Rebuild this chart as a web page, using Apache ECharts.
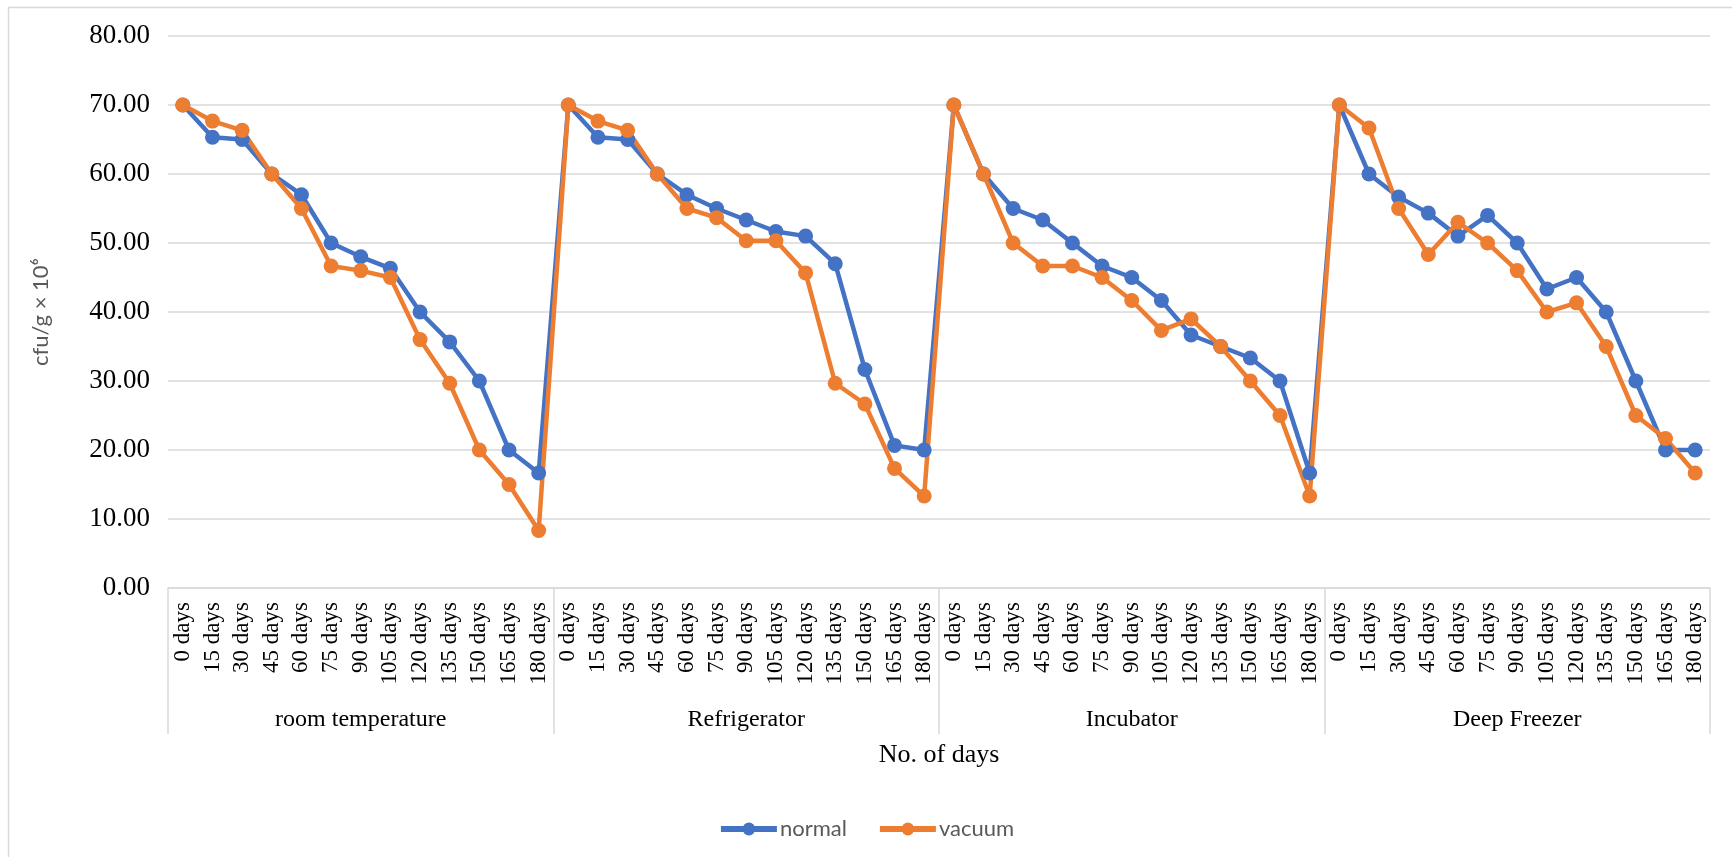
<!DOCTYPE html>
<html>
<head>
<meta charset="utf-8">
<script src="https://cdn.jsdelivr.net/npm/echarts@6/dist/echarts.min.js"></script>
<style>html,body{margin:0;padding:0;background:#fff}#c{width:1732px;height:857px}</style>
</head>
<body>
<div id="c"></div>
<script>
const groups = ['room temperature', 'Refrigerator', 'Incubator', 'Deep Freezer'];
const days = ['0 days','15 days','30 days','45 days','60 days','75 days','90 days','105 days','120 days','135 days','150 days','165 days','180 days'];
const yTicks = [0, 10, 20, 30, 40, 50, 60, 70, 80];

const normalRoom   = [70, 65.33, 65.00, 60, 57, 50, 48, 46.33, 40, 35.67, 30, 20, 16.67];
const normalFridge = [70, 65.33, 65.00, 60, 57, 55, 53.33, 51.67, 51, 47, 31.67, 20.67, 20];
const normalIncub  = [70, 60, 55, 53.33, 50, 46.67, 45, 41.67, 36.67, 35, 33.33, 30, 16.67];
const normalFreez  = [70, 60, 56.67, 54.33, 51, 54, 50, 43.33, 45, 40, 30, 20, 20];

const vacuumRoom   = [70, 67.67, 66.33, 60, 55, 46.67, 46, 45, 36, 29.67, 20, 15, 8.33];
const vacuumFridge = [70, 67.67, 66.33, 60, 55, 53.67, 50.33, 50.33, 45.67, 29.67, 26.67, 17.33, 13.33];
const vacuumIncub  = [70, 60, 50, 46.67, 46.67, 45, 41.67, 37.33, 39, 35, 30, 25, 13.33];
const vacuumFreez  = [70, 66.67, 55, 48.33, 53, 50, 46, 40, 41.33, 35, 25, 21.67, 16.67];

const categories = [];
groups.forEach(() => days.forEach(d => categories.push(d)));
const normal = [].concat(normalRoom, normalFridge, normalIncub, normalFreez);
const vacuum = [].concat(vacuumRoom, vacuumFridge, vacuumIncub, vacuumFreez);

const chart = echarts.init(document.getElementById('c'));
const serif = '"Liberation Serif", "Times New Roman", serif';
const sans = 'Lato, "Open Sans", sans-serif';
chart.setOption({
  animation: false,
  graphic: [{type: 'rect', shape: {x: 8.5, y: 7.5, width: 1800, height: 1000}, style: {fill: 'none', stroke: '#d9d9d9', lineWidth: 1.5}, z: -10}],
  grid: {left: 168, right: 22, top: 36, bottom: 269},
  legend: {
    data: ['normal', 'vacuum'], top: 813, left: 'center', itemWidth: 56, itemHeight: 16, itemGap: 30,
    lineStyle: {width: 6},
    textStyle: {fontFamily: sans, fontSize: 22, color: '#595959', padding: [0, 0, 0, -2]}
  },
  xAxis: [{
    type: 'category', data: categories, boundaryGap: true,
    axisLine: {lineStyle: {color: '#d9d9d9', width: 1.5}},
    axisTick: {show: false},
    axisLabel: {interval: 0, rotate: 90, margin: 14, fontFamily: serif, fontSize: 23, color: '#000'}
  }, {
    type: 'category', data: groups, position: 'bottom', boundaryGap: true,
    axisLine: {show: false},
    axisTick: {show: true, length: 146, lineStyle: {color: '#d9d9d9', width: 1.5}},
    axisLabel: {interval: 0, margin: 120, fontFamily: serif, fontSize: 24, color: '#000'},
    name: 'No. of days', nameLocation: 'middle', nameGap: 154,
    nameTextStyle: {fontFamily: serif, fontSize: 26, color: '#000'}
  }],
  yAxis: {
    type: 'value', min: yTicks[0], max: yTicks[yTicks.length - 1], interval: yTicks[1] - yTicks[0],
    axisLine: {show: false}, axisTick: {show: false},
    splitLine: {lineStyle: {color: '#d9d9d9', width: 1.5}},
    axisLabel: {margin: 18, fontFamily: serif, fontSize: 27, color: '#000', formatter: v => v.toFixed(2)},
    name: 'cfu/g × 10⁶', nameLocation: 'middle', nameGap: 116, nameRotate: 90,
    nameTextStyle: {fontFamily: sans, fontSize: 22, color: '#595959'}
  },
  series: [
    {name: 'normal', type: 'line', data: normal, xAxisIndex: 0, symbol: 'circle', symbolSize: 15,
     itemStyle: {color: '#4472C4'}, lineStyle: {width: 4.5, color: '#4472C4'}},
    {name: 'vacuum', type: 'line', data: vacuum, xAxisIndex: 0, symbol: 'circle', symbolSize: 15,
     itemStyle: {color: '#ED7D31'}, lineStyle: {width: 4.5, color: '#ED7D31'}}
  ]
});
</script>
</body>
</html>
